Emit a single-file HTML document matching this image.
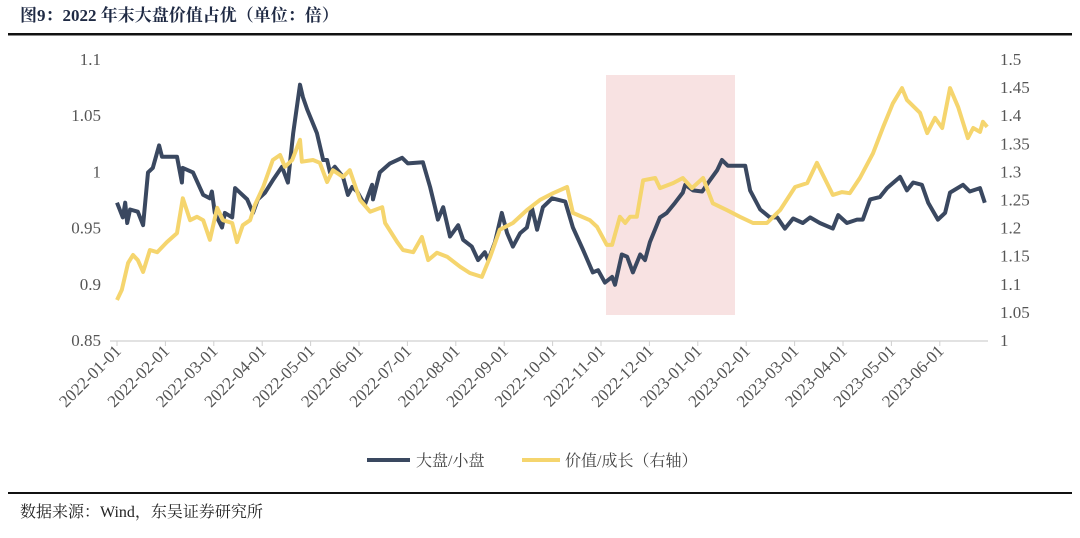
<!DOCTYPE html>
<html><head><meta charset="utf-8"><style>
body{margin:0;background:#fff;width:1080px;height:533px;overflow:hidden;font-family:"Liberation Serif","Noto Serif CJK SC",serif}
</style></head><body>
<svg width="1080" height="533" xmlns="http://www.w3.org/2000/svg">
<text x="20" y="21" font-size="17" font-weight="bold" fill="#1f2a44" font-family="Liberation Serif,Noto Serif CJK SC,serif">图9：2022 年末大盘价值占优（单位：倍）</text>
<rect x="8" y="33" width="1064" height="2.5" fill="#111"/>
<rect x="606" y="75" width="129" height="240" fill="#f8e2e2"/>
<g id="axes"></g>
<g id="series"></g>
<g>
<line x1="367" y1="460" x2="410" y2="460" stroke="#3a4860" stroke-width="4"/>
<text x="416" y="466" font-size="16" fill="#444" font-family="Liberation Serif,Noto Serif CJK SC,serif">大盘/小盘</text>
<line x1="522" y1="460" x2="560" y2="460" stroke="#f5d56e" stroke-width="4"/>
<text x="565" y="466" font-size="16" fill="#444" font-family="Liberation Serif,Noto Serif CJK SC,serif">价值/成长（右轴）</text>
</g>
<rect x="8" y="492" width="1064" height="2" fill="#111"/>
<text x="20" y="517" font-size="16" fill="#222" font-family="Liberation Serif,Noto Serif CJK SC,serif">数据来源：Wind，东吴证券研究所</text>
</svg>
<script>
const leftTicks=[0.85,0.9,0.95,1,1.05,1.1];
const leftTickLabels=["0.85","0.9","0.95","1","1.05","1.1"];
const rightTicks=[1,1.05,1.1,1.15,1.2,1.25,1.3,1.35,1.4,1.45,1.5];
const rightTickLabels=["1","1.05","1.1","1.15","1.2","1.25","1.3","1.35","1.4","1.45","1.5"];
const monthLabels=["2022-01-01","2022-02-01","2022-03-01","2022-04-01","2022-05-01","2022-06-01","2022-07-01","2022-08-01","2022-09-01","2022-10-01","2022-11-01","2022-12-01","2023-01-01","2023-02-01","2023-03-01","2023-04-01","2023-05-01","2023-06-01"];
const darkT=[0,.12,.17,.21,.27,.43,.54,.64,.74,.87,.93,1.24,1.34,1.36,1.57,1.78,1.92,1.96,2.02,2.17,2.23,2.38,2.44,2.54,2.69,2.81,2.91,3.06,3.22,3.41,3.53,3.64,3.78,3.84,3.93,4.13,4.26,4.34,4.40,4.50,4.67,4.77,4.86,4.96,5.12,5.27,5.29,5.43,5.64,5.89,6.01,6.32,6.47,6.57,6.63,6.74,6.88,7.05,7.15,7.33,7.46,7.60,7.67,7.81,7.95,8.06,8.18,8.33,8.47,8.57,8.68,8.80,8.99,9.26,9.42,9.63,9.83,9.94,10.08,10.23,10.29,10.43,10.54,10.66,10.81,10.91,11.01,11.22,11.36,11.53,11.69,11.74,11.90,12.09,12.25,12.40,12.50,12.62,12.98,13.08,13.29,13.49,13.64,13.80,13.97,14.17,14.32,14.52,14.79,14.90,15.08,15.29,15.41,15.56,15.76,15.91,16.18,16.32,16.45,16.63,16.76,16.96,17.11,17.21,17.48,17.62,17.83,17.93];
const darkV=[.973,.960,.973,.955,.967,.965,.953,1.0,1.004,1.024,1.014,1.014,.991,1.004,1.0,.98,.977,.983,.964,.951,.964,.96,.986,.982,.976,.964,.976,.982,.993,1.005,.991,1.035,1.078,1.067,1.056,1.035,1.011,1.011,1.0,1.005,.996,.980,.987,.983,.971,.989,.976,1.0,1.008,1.013,1.008,1.009,.987,.969,.958,.969,.943,.953,.94,.934,.922,.929,.922,.938,.964,.946,.934,.946,.951,.969,.949,.969,.977,.974,.951,.931,.911,.913,.902,.907,.9,.927,.925,.911,.927,.922,.938,.960,.964,.973,.982,.989,.984,.983,.993,1.002,1.011,1.006,1.006,.984,.967,.96,.96,.95,.959,.955,.96,.955,.95,.962,.955,.958,.958,.976,.978,.986,.996,.984,.991,.989,.973,.958,.964,.982,.989,.983,.986,.973];
const yellowT=[0,.10,.23,.33,.43,.54,.68,.83,1.03,1.24,1.36,1.51,1.65,1.78,1.92,2.07,2.19,2.38,2.48,2.60,2.75,2.85,3.02,3.22,3.37,3.47,3.62,3.78,3.82,4.05,4.19,4.34,4.46,4.67,4.81,5.02,5.23,5.48,5.54,5.79,5.91,6.12,6.30,6.43,6.61,6.82,7.09,7.29,7.54,7.71,7.91,8.18,8.47,8.74,9.01,9.30,9.42,9.77,9.92,10.12,10.23,10.39,10.50,10.60,10.74,10.87,11.12,11.22,11.49,11.69,11.88,12.11,12.31,12.60,12.87,13.14,13.43,13.70,14.01,14.26,14.46,14.67,14.79,14.98,15.14,15.35,15.62,15.83,16.03,16.22,16.32,16.59,16.74,16.90,17.05,17.21,17.38,17.58,17.69,17.83,17.89,17.98];
const yellowV=[1.073,1.091,1.139,1.153,1.144,1.123,1.162,1.158,1.176,1.192,1.254,1.215,1.221,1.215,1.180,1.237,1.215,1.210,1.176,1.206,1.215,1.242,1.274,1.322,1.331,1.310,1.322,1.358,1.319,1.322,1.317,1.283,1.304,1.292,1.304,1.251,1.23,1.238,1.210,1.176,1.162,1.158,1.185,1.144,1.157,1.150,1.132,1.121,1.114,1.150,1.198,1.210,1.233,1.251,1.263,1.274,1.228,1.215,1.203,1.171,1.171,1.221,1.210,1.221,1.221,1.286,1.290,1.272,1.281,1.290,1.272,1.290,1.245,1.233,1.221,1.210,1.210,1.233,1.274,1.281,1.317,1.281,1.260,1.265,1.263,1.290,1.334,1.381,1.423,1.450,1.429,1.406,1.370,1.397,1.379,1.450,1.416,1.361,1.379,1.372,1.390,1.381];

const NS='http://www.w3.org/2000/svg';
const X0=117,XM=48.4,YT=60,YB=341;
const xS=m=>X0+m*XM;
const yL=v=>YB-(v-0.85)/(1.1-0.85)*(YB-YT);
const yR=v=>YB-(v-1)/(1.5-1)*(YB-YT);
const axes=document.getElementById('axes'),series=document.getElementById('series');
function mk(tag,attrs,parent){const e=document.createElementNS(NS,tag);for(const k in attrs)e.setAttribute(k,attrs[k]);parent.appendChild(e);return e;}
const axisLine=mk('line',{x1:110,y1:YB,x2:988,y2:YB,stroke:'#d0d0d0','stroke-width':1.2},axes);


leftTicks.forEach((v,i)=>{const t=mk('text',{x:101,y:yL(v)+5,'text-anchor':'end','font-size':17,fill:'#555'},axes);t.textContent=leftTickLabels[i];

});
rightTicks.forEach((v,i)=>{const t=mk('text',{x:1000,y:yR(v)+5,'font-size':17,fill:'#555'},axes);t.textContent=rightTickLabels[i];

});
monthLabels.forEach((lab,i)=>{const x=xS(i);
const tk=mk('line',{x1:x,y1:YB,x2:x,y2:YB+5,stroke:'#d0d0d0','stroke-width':1},axes);


const t=mk('text',{x:0,y:0,'text-anchor':'end','font-size':17,fill:'#555',transform:`translate(${x+5},${YB+11}) rotate(-45)`},axes);t.textContent=lab;

});
function line(ts,vs,ys,color,name){const d=ts.map((t,i)=>(i?'L':'M')+xS(t).toFixed(1)+','+ys(vs[i]).toFixed(1)).join('');
const p=mk('path',{d:d,fill:'none',stroke:color,'stroke-width':4,'stroke-linejoin':'round'},series);

}
line(darkT,darkV,yL,'#3a4860','large-small-line');
line(yellowT,yellowV,yR,'#f5d56e','value-growth-line');
</script>
</body></html>
